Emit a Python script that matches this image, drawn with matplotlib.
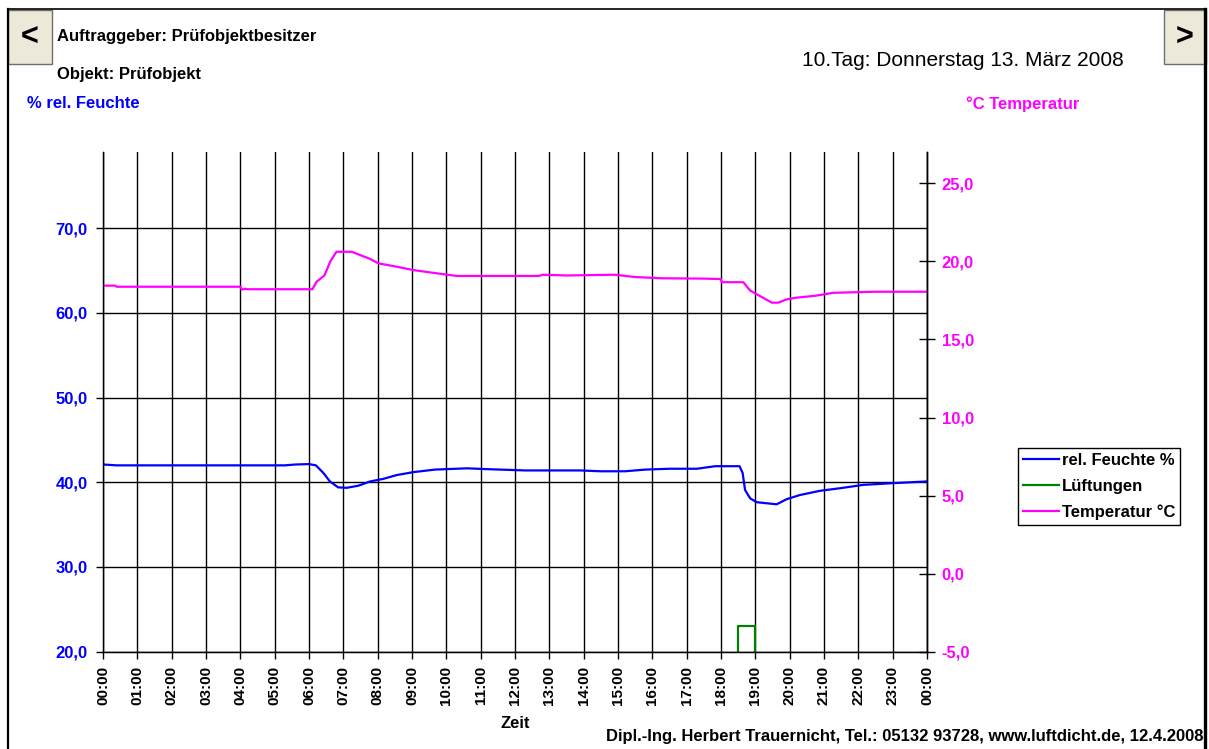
import matplotlib
matplotlib.use("Agg")
import matplotlib.pyplot as plt
from matplotlib.patches import Rectangle
from matplotlib.lines import Line2D

plt.rcParams['font.family'] = ['Liberation Sans', 'DejaVu Sans']

# Messwerte (Stunden seit Mitternacht)
feuchte_zeit = [0.0, 0.4, 5.3, 5.6, 6.0, 6.2, 6.42, 6.61, 6.85, 7.1, 7.44, 7.78, 8.16, 8.55,
                9.04, 9.67, 10.6, 11.2, 12.3, 13.9, 14.5, 15.2, 15.8, 16.5, 17.3, 17.83,
                18.54, 18.63, 18.7, 18.85, 19.04, 19.62, 19.91, 20.3, 20.89, 21.47, 22.15,
                23.02, 23.5, 24.0]
feuchte_wert = [42.1, 42.0, 42.0, 42.1, 42.15, 42.0, 41.1, 40.1, 39.4, 39.35, 39.6, 40.1, 40.4,
                40.85, 41.2, 41.5, 41.65, 41.55, 41.4, 41.4, 41.3, 41.3, 41.5, 41.6, 41.6, 41.9,
                41.9, 41.1, 39.1, 38.1, 37.65, 37.4, 38.0, 38.5, 39.0, 39.3, 39.7,
                39.9, 40.0, 40.1]

temp_zeit = [0.0, 0.35, 0.4, 4.0, 4.05, 4.15, 4.2, 6.1, 6.22, 6.45, 6.62, 6.8, 7.25, 7.5,
             7.78, 8.02, 8.56, 9.03, 9.72, 10.3, 12.7, 12.8, 13.5, 14.9, 15.5, 16.3, 17.5,
             18.0, 18.02, 18.65, 18.85, 19.17, 19.48, 19.67, 19.91, 20.2, 20.74, 21.27,
             22.49, 24.0]
temp_wert = [18.45, 18.45, 18.38, 18.38, 18.2, 18.25, 18.22, 18.22, 18.7, 19.1, 20.0, 20.62,
             20.62, 20.4, 20.16, 19.88, 19.66, 19.45, 19.24, 19.07, 19.07, 19.15, 19.1, 19.15,
             19.0, 18.92, 18.9, 18.87, 18.67, 18.67, 18.13, 17.74, 17.36, 17.36, 17.57, 17.68,
             17.8, 17.99, 18.06, 18.06]

lueft_zeit = [18.5, 18.5, 19.0, 19.0]
lueft_wert = [20.0, 23.07, 23.07, 20.0]

stunden = list(range(25))
stunden_labels = [f"{h % 24:02d}:00" for h in stunden]
feuchte_ticks = [20, 30, 40, 50, 60, 70]
temp_ticks = [-5, 0, 5, 10, 15, 20, 25]

W, H = 1209, 749
fig = plt.figure(figsize=(W / 100, H / 100), dpi=100)
fig.patch.set_facecolor('white')


def fx(x):
    return x / W


def fy(y):
    return 1 - y / H


ax = fig.add_axes([fx(103), fy(651.7), fx(824), 500 / H])
ax.set_xlim(0, 24)
ax.set_ylim(20, 79.03)
ax.spines['top'].set_visible(False)
for s in ['left', 'bottom', 'right']:
    ax.spines[s].set_linewidth(1.0)
    ax.spines[s].set_color('black')

ax.set_xticks(stunden)
ax.set_xticklabels(stunden_labels, rotation=90, fontweight='bold', fontsize=11)
ax.set_yticks(feuchte_ticks)
ax.set_yticklabels([f"{v:.1f}".replace('.', ',') for v in feuchte_ticks],
                   color='#0000ff', fontweight='bold', fontsize=12)
ax.tick_params(axis='x', direction='out', length=5, width=1, pad=5)
ax.tick_params(axis='y', direction='out', length=5, width=1, pad=6)
ax.grid(True, color='black', linewidth=1.0)
ax.set_axisbelow(True)
ax.set_xlabel('Zeit', fontweight='bold', fontsize=12, labelpad=8)

l1, = ax.plot(feuchte_zeit, feuchte_wert, color='#0000ff', lw=1.6, label='rel. Feuchte %')
l2, = ax.plot(lueft_zeit, lueft_wert, color='#008000', lw=1.6, label='Lüftungen')

ax2 = ax.twinx()
ax2.set_ylim(-5, 27.03)
ax2.spines['top'].set_visible(False)
ax2.spines['right'].set_linewidth(1.0)
ax2.set_yticks(temp_ticks)
ax2.set_yticklabels([f"{v:.1f}".replace('.', ',') for v in temp_ticks],
                    color='#ff00ff', fontweight='bold', fontsize=12)
ax2.tick_params(axis='y', direction='inout', length=11, width=1, pad=5)
l3, = ax2.plot(temp_zeit, temp_wert, color='#ff00ff', lw=1.6, label='Temperatur °C')

leg = fig.legend(handles=[l1, l2, l3], loc='upper left',
                 bbox_to_anchor=(fx(1018), fy(447.7)),
                 prop={'weight': 'bold', 'size': 12}, frameon=True, fancybox=False,
                 edgecolor='black', framealpha=1, borderpad=0.3, handlelength=2.15,
                 handletextpad=0.18, labelspacing=0.66, borderaxespad=0)
leg.get_frame().set_linewidth(1.0)

# Kopf- und Fusszeilen
fig.text(fx(57), fy(36), 'Auftraggeber: Prüfobjektbesitzer', fontsize=12,
         fontweight='bold', va='center', ha='left')
fig.text(fx(57), fy(75), 'Objekt: Prüfobjekt', fontsize=12,
         fontweight='bold', va='center', ha='left')
fig.text(fx(27), fy(104), '% rel. Feuchte', fontsize=12, color='#0000ff',
         fontweight='bold', va='center', ha='left')
fig.text(fx(966), fy(104), '°C Temperatur', fontsize=12, color='#ff00ff',
         fontweight='bold', va='center', ha='left')
fig.text(fx(802), fy(60), '10.Tag: Donnerstag 13. März 2008', fontsize=15,
         va='center', ha='left')
fig.text(fx(1203), fy(736), 'Dipl.-Ing. Herbert Trauernicht, Tel.: 05132 93728, www.luftdicht.de, 12.4.2008',
         fontsize=12, fontweight='bold', va='center', ha='right')

# Rahmen
fig.add_artist(Line2D([fx(8), fx(8)], [fy(9), 0], transform=fig.transFigure, color='black', lw=1.6))
fig.add_artist(Line2D([fx(8), fx(1206)], [fy(9), fy(9)], transform=fig.transFigure, color='black', lw=1.2))
fig.add_artist(Line2D([fx(1205), fx(1205)], [fy(9), 0], transform=fig.transFigure, color='black', lw=2.4))

# Blaettern-Knoepfe
for x0, x1, txt in [(8, 52, '<'), (1164, 1206, '>')]:
    fig.add_artist(Rectangle((fx(x0), fy(64)), fx(x1 - x0), (64 - 10) / H,
                             transform=fig.transFigure, facecolor='#ece9d8',
                             edgecolor='#6e6e6e', lw=1.0))
    fig.text(fx((x0 + x1) / 2), fy(38), txt, fontsize=22, fontweight='bold',
             ha='center', va='center')

fig.savefig('out.png', dpi=100)
